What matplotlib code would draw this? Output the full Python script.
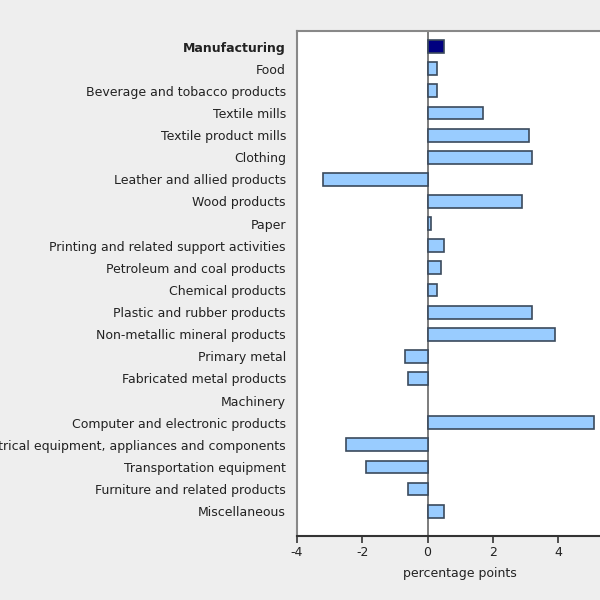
import matplotlib
matplotlib.use("Agg")
import matplotlib.pyplot as plt
import numpy as np

categories = ["Manufacturing", "Food", "Beverage and tobacco products", "Textile mills",
              "Textile product mills", "Clothing", "Leather and allied products",
              "Wood products", "Paper", "Printing and related support activities",
              "Petroleum and coal products", "Chemical products",
              "Plastic and rubber products", "Non-metallic mineral products",
              "Primary metal", "Fabricated metal products", "Machinery",
              "Computer and electronic products",
              "Electrical equipment, appliances and components",
              "Transportation equipment", "Furniture and related products",
              "Miscellaneous"]
values = [0.5, 0.3, 0.3, 1.7, 3.1, 3.2, -3.2, 2.9, 0.1, 0.5, 0.4, 0.3,
          3.2, 3.9, -0.7, -0.6, 0.0, 5.1, -2.5, -1.9, -0.6, 0.5]
xticks = [-4, -2, 0, 2, 4]

bg = "#eeeeee"
fig = plt.figure(figsize=(6, 6), dpi=100, facecolor=bg)
# axes run past the right edge, like the cropped original
ax = fig.add_axes([0.495, 0.1067, 0.544, 0.841])
ax.set_facecolor("white")

y = np.arange(len(categories))
colors = ["#000080"] + ["#99ccff"] * (len(categories) - 1)
lw = [1.2 if v != 0 else 0 for v in values]  # no outline for empty bars
ax.barh(y, values, height=0.58, color=colors, edgecolor="#3b4a5c", linewidth=lw, zorder=3)
ax.axvline(0, color="#666666", linewidth=1.2, zorder=2)

ax.set_xlim(-4, 6)
ax.set_ylim(21 + 1.12, -0.69)
ax.set_yticks(y)
ax.set_yticklabels(categories, fontsize=9, color="#222222")
ax.get_yticklabels()[0].set_fontweight("bold")
ax.tick_params(axis="y", length=0, pad=8)
ax.set_xticks(xticks)
ax.set_xticklabels([str(t) for t in xticks], fontsize=9, color="#222222")
ax.tick_params(axis="x", direction="out", length=5, width=1.2, color="#333333", pad=2)
ax.set_xlabel("percentage points", fontsize=9, color="#222222", labelpad=6)

for s in ["left", "top"]:
    ax.spines[s].set_color("#888888")
    ax.spines[s].set_linewidth(1.5)
ax.spines["right"].set_visible(False)
ax.spines["bottom"].set_color("#333333")
ax.spines["bottom"].set_linewidth(1.5)

fig.savefig("out.png", dpi=100, facecolor=bg)
